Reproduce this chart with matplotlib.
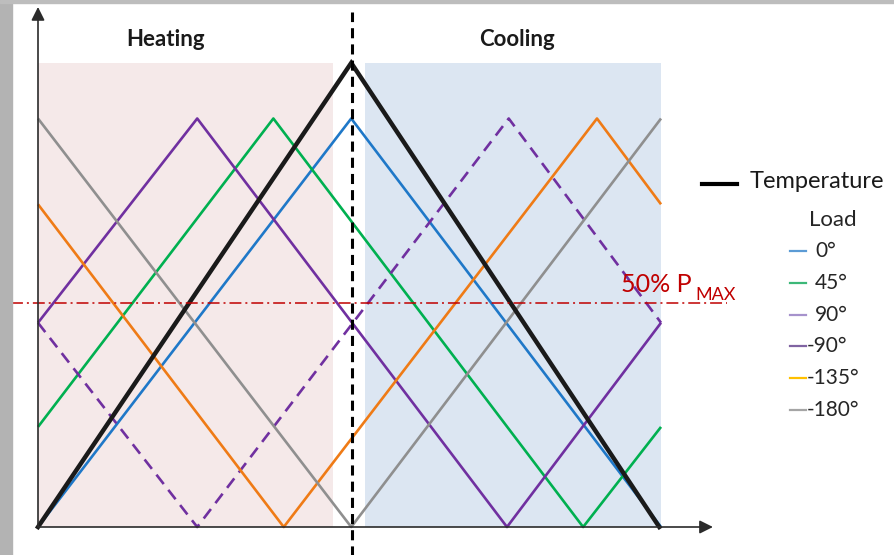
import matplotlib
matplotlib.use("Agg")
import matplotlib.pyplot as plt
from matplotlib.patches import Rectangle

plt.rcParams['font.family'] = ['Lato', 'DejaVu Sans']

# phase axis in degrees over one heating/cooling cycle, power as fraction of load peak
temp_x = [0, 181, 359]
temp_y = [0, 1.136, 0]

load_labels = ['0°', '45°', '90°', '-90°', '-135°', '-180°']
load_x = [
    [0, 181, 360],
    [0, 136, 315, 360],
    [0, 92, 271, 360],
    [0, 92, 272, 360],
    [0, 142, 323, 360],
    [0, 181, 360],
]
load_y = [
    [0, 1, 0],
    [0.245, 1, 0, 0.245],
    [0.5, 1, 0, 0.5],
    [0.5, 0, 1, 0.5],
    [0.79, 0, 1, 0.79],
    [1, 0, 1],
]
load_colors = ['#1f78c8', '#00b050', '#7030a0', '#7030a0', '#ef7b16', '#8f8f8f']
load_styles = ['-', '-', '-', (0, (4.5, 2.8)), '-', '-']
legend_colors = ['#5b9bd5', '#3cb878', '#a692cc', '#8064a2', '#ffc000', '#a5a5a5']

heating_span = (0, 170.5)
cooling_span = (189, 360)
pmax_level = 0.549

W, H = 894, 555
fig = plt.figure(figsize=(W / 100, H / 100), dpi=100)
ax = fig.add_axes([0, 0, 1, 1])
ax.set_xlim(-38 / 1.7306, (W - 38) / 1.7306)
ax.set_ylim(-(H - 527) / 408.5, 527 / 408.5)
ax.axis('off')


def fp(x, y):
    return x / W, 1 - y / H


# gray frame along the left and top edges
fig.patches.append(Rectangle((0, 0), 12 / W, 1, transform=fig.transFigure,
                             color='#b3b3b3', zorder=0))
fig.patches.append(Rectangle((0, 1 - 3 / H), 1, 3 / H, transform=fig.transFigure,
                             color='#bdbdbd', zorder=0))

# heating / cooling zones
ax.add_patch(Rectangle((heating_span[0], 0), heating_span[1] - heating_span[0], temp_y[1],
                       color='#f5e9e9', lw=0, zorder=1))
ax.add_patch(Rectangle((cooling_span[0], 0), cooling_span[1] - cooling_span[0], temp_y[1],
                       color='#dce6f2', lw=0, zorder=1))

for xs, ys, c, ls in zip(load_x, load_y, load_colors, load_styles):
    ax.plot(xs, ys, color=c, lw=1.9, ls=ls, zorder=3, solid_capstyle='butt')

ax.plot(temp_x, temp_y, color='#1a1a1a', lw=3.2, zorder=4, solid_joinstyle='miter')

# 50 % Pmax threshold
ax.plot([-15.5, 398], [pmax_level, pmax_level], color='#c00000', lw=1.1,
        ls=(0, (7.8, 2.6, 1.3, 2.6)), zorder=5)
t1 = ax.text(*fp(621, 292), '50% P', transform=fig.transFigure, color='#c00000',
             fontsize=18, va='baseline', ha='left', zorder=6)
ax.annotate('MAX', xy=(1, 0), xycoords=t1, xytext=(3, -3), textcoords='offset points',
            color='#c00000', fontsize=13, va='baseline', ha='left', zorder=6)

# axes with arrowheads
ax.annotate('', xy=(0, 1.273), xytext=(0, 0),
            arrowprops=dict(arrowstyle='-|>', mutation_scale=20, lw=1.2,
                            color='#2b2b2b', shrinkA=0, shrinkB=0), zorder=6)
ax.annotate('', xy=(390, 0), xytext=(0, 0),
            arrowprops=dict(arrowstyle='-|>', mutation_scale=20, lw=1.2,
                            color='#2b2b2b', shrinkA=0, shrinkB=0), zorder=6)

# cycle midpoint
ax.plot([181.4, 181.4], [-0.07, 1.26], color='black', lw=2.2,
        ls=(0, (3.3, 2.0)), zorder=7)

fig.text(*fp(166, 40), 'Heating', fontsize=16, fontweight='bold', color='#1a1a1a',
         ha='center', va='center')
fig.text(*fp(517, 40), 'Cooling', fontsize=16, fontweight='bold', color='#1a1a1a',
         ha='center', va='center')

# legend
fig.add_artist(plt.Line2D([702 / W, 737 / W], [1 - 184 / H] * 2, color='black', lw=3,
                          transform=fig.transFigure))
fig.text(*fp(750, 181), 'Temperature', fontsize=17, color='#1a1a1a', ha='left', va='center')
fig.text(*fp(809, 220), 'Load', fontsize=16, color='#262626', ha='left', va='center')
entry_y = [251, 283, 315, 346, 378, 410]
for lab, c, yy in zip(load_labels, legend_colors, entry_y):
    fig.add_artist(plt.Line2D([790 / W, 806 / W], [1 - yy / H] * 2, color=c, lw=1.6,
                              transform=fig.transFigure))
    tx = 807 if lab.startswith('-') else 815
    fig.text(*fp(tx, yy), lab, fontsize=15, color='#262626', ha='left', va='center')

fig.savefig('out.png', dpi=100, facecolor='white')
